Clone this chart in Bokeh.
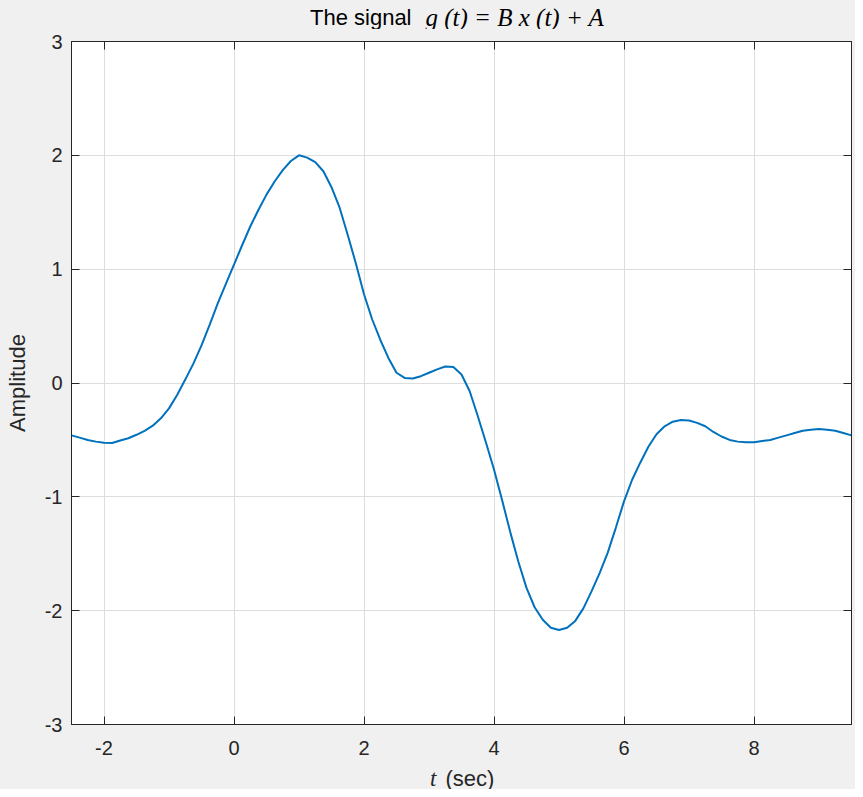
from bokeh.plotting import figure
from bokeh.models import LinearAxis, Range1d
from bokeh.layouts import column
from bokeh.core.properties import value
from bokeh.embed import file_html
from bokeh.resources import INLINE

# ---- data ----
t = [-2.5, -2.375, -2.25, -2.125, -2.0, -1.875, -1.75, -1.625, -1.5, -1.375,
     -1.25, -1.125, -1.0, -0.875, -0.75, -0.625, -0.5, -0.375, -0.25, -0.125,
     0.0, 0.125, 0.25, 0.375, 0.5, 0.625, 0.75, 0.875, 1.0, 1.125,
     1.25, 1.375, 1.5, 1.625, 1.75, 1.875, 2.0, 2.125, 2.25, 2.375,
     2.5, 2.625, 2.75, 2.875, 3.0, 3.125, 3.25, 3.375, 3.5, 3.625,
     3.75, 3.875, 4.0, 4.125, 4.25, 4.375, 4.5, 4.625, 4.75, 4.875,
     5.0, 5.125, 5.25, 5.375, 5.5, 5.625, 5.75, 5.875, 6.0, 6.125,
     6.25, 6.375, 6.5, 6.625, 6.75, 6.875, 7.0, 7.125, 7.25, 7.375,
     7.5, 7.625, 7.75, 7.875, 8.0, 8.125, 8.25, 8.375, 8.5, 8.625,
     8.75, 8.875, 9.0, 9.125, 9.25, 9.375, 9.5]
g = [-0.46, -0.48, -0.50, -0.515, -0.525, -0.527, -0.505, -0.485, -0.455, -0.42,
     -0.375, -0.31, -0.223, -0.105, 0.03, 0.17, 0.33, 0.51, 0.70, 0.87,
     1.04, 1.21, 1.375, 1.52, 1.655, 1.77, 1.87, 1.95, 2.0, 1.98,
     1.94, 1.86, 1.72, 1.54, 1.30, 1.05, 0.78, 0.56, 0.38, 0.22,
     0.09, 0.045, 0.04, 0.06, 0.09, 0.12, 0.145, 0.14, 0.075, -0.07,
     -0.29, -0.52, -0.76, -1.03, -1.31, -1.57, -1.80, -1.97, -2.08, -2.15,
     -2.17, -2.15, -2.09, -1.98, -1.83, -1.67, -1.49, -1.27, -1.04, -0.85,
     -0.70, -0.56, -0.45, -0.38, -0.34, -0.325, -0.33, -0.35, -0.38, -0.43,
     -0.47, -0.50, -0.515, -0.52, -0.52, -0.51, -0.50, -0.48, -0.46, -0.44,
     -0.42, -0.41, -0.405, -0.41, -0.42, -0.44, -0.46]

x_ticks = [-2, 0, 2, 4, 6, 8]
y_ticks = [-3, -2, -1, 0, 1, 2, 3]
x_lim = (-2.5, 9.5)
y_lim = (-3, 3)

title_plain = "The signal"
title_math = "g (t)  =  B x (t)  +  A"
xlabel_var = "t"
xlabel_unit = "(sec)"
ylabel = "Amplitude"

AX = "#262626"
GRID = "#dedede"
BG = "#f0f0f0"
W = 855
LEFT, RIGHT = 71, 4

xr = Range1d(*x_lim)

p = figure(width=W, height=734, output_backend="svg", toolbar_location=None,
           title=None, x_range=xr, y_range=Range1d(*y_lim),
           min_border_left=LEFT, min_border_right=RIGHT,
           min_border_top=12, min_border_bottom=39)
p.border_fill_color = BG
p.background_fill_color = "white"
p.outline_line_color = AX
p.outline_line_width = 1


def style_axis(ax, ticks, show_labels):
    ax.ticker = ticks
    ax.axis_line_color = AX
    ax.axis_line_width = 1
    ax.major_tick_line_color = AX
    ax.major_tick_line_width = 1
    ax.major_tick_in = 8
    ax.major_tick_out = 0
    ax.minor_tick_line_color = None
    ax.major_label_text_font = "Liberation Sans"
    ax.major_label_text_color = AX
    if show_labels:
        ax.major_label_text_font_size = "20px"
        ax.major_label_overrides = {k: str(k) for k in ticks}
    else:
        ax.major_label_text_font_size = "2px"
        ax.major_label_overrides = {k: "" for k in ticks}
        ax.major_label_standoff = 0


style_axis(p.xaxis[0], x_ticks, True)
style_axis(p.yaxis[0], y_ticks, True)
p.xaxis[0].major_label_standoff = 16
p.yaxis[0].major_label_standoff = 9

top_ax = LinearAxis()
style_axis(top_ax, x_ticks, False)
p.add_layout(top_ax, "above")
right_ax = LinearAxis()
style_axis(right_ax, y_ticks, False)
p.add_layout(right_ax, "right")

p.yaxis[0].axis_label = ylabel
p.yaxis[0].axis_label_text_font = "Liberation Sans"
p.yaxis[0].axis_label_text_font_size = "22px"
p.yaxis[0].axis_label_text_font_style = "normal"
p.yaxis[0].axis_label_text_color = AX
p.yaxis[0].axis_label_standoff = 12

p.xgrid.ticker = x_ticks
p.ygrid.ticker = y_ticks
p.xgrid.grid_line_color = GRID
p.ygrid.grid_line_color = GRID

p.line(t, g, line_color="#0072BD", line_width=2)


def text_strip(height):
    f = figure(width=W, height=height, output_backend="svg", toolbar_location=None,
               title=None, x_range=xr, y_range=Range1d(0, height),
               x_axis_location=None, y_axis_location=None,
               min_border_left=LEFT, min_border_right=RIGHT,
               min_border_top=0, min_border_bottom=0)
    f.grid.visible = False
    f.outline_line_color = None
    f.background_fill_color = BG
    f.border_fill_color = BG
    return f


xc = (x_lim[0] + x_lim[1]) / 2

# title strip
tf = text_strip(29)
tf.text(x=[xc], y=[12.5], text=[title_plain], x_offset=-50,
        text_align="right", text_baseline="alphabetic",
        text_font=value("Liberation Sans"), text_font_size="22px",
        text_color="black")
tf.text(x=[xc], y=[12.5], text=[title_math], x_offset=-36,
        text_align="left", text_baseline="alphabetic",
        text_font=value("Liberation Serif"), text_font_style="italic",
        text_font_size="25px", text_color="black")

# x-label strip
xf = text_strip(26)
xf.text(x=[xc], y=[11.5], text=[xlabel_var], x_offset=-25,
        text_align="right", text_baseline="alphabetic",
        text_font=value("Liberation Serif"), text_font_style="italic",
        text_font_size="23px", text_color=AX)
xf.text(x=[xc], y=[11.5], text=[xlabel_unit], x_offset=-16,
        text_align="left", text_baseline="alphabetic",
        text_font=value("Liberation Sans"), text_font_size="22px",
        text_color=AX)

layout = column(tf, p, xf, spacing=0, styles={"background-color": BG})

open("out.html", "w").write(file_html(layout, INLINE))
